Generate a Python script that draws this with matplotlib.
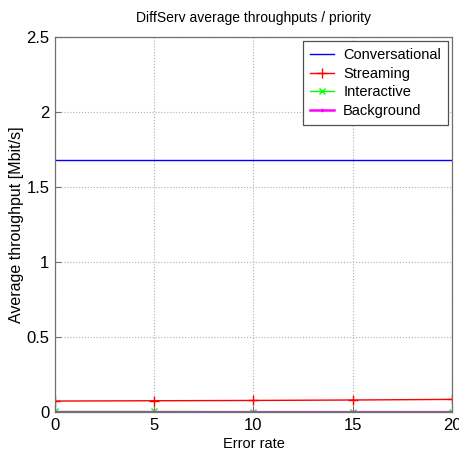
import matplotlib
matplotlib.use("Agg")
import matplotlib.pyplot as plt

plt.rcParams['font.family'] = ['Liberation Sans', 'DejaVu Sans']

error_rate = [0, 5, 10, 15, 20]
conversational = [1.68, 1.68, 1.68, 1.68, 1.68]
streaming = [0.073, 0.075, 0.077, 0.080, 0.084]
interactive = [0.004, 0.004, 0.003, 0.003, 0.003]
background = [0.001, 0.001, 0.001, 0.001, 0.001]

fig = plt.figure(figsize=(4.59, 4.57), dpi=100)
ax = fig.add_axes([55 / 459, 45 / 457, (452 - 55) / 459, (412 - 37) / 457])

ax.plot(error_rate, conversational, color='#0000ff', lw=1.0, label='Conversational')
ax.plot(error_rate, streaming, color='#ff0000', lw=1.0, marker='+', ms=7, label='Streaming')
ax.plot(error_rate, interactive, color='#00ff00', lw=1.0, marker='x', ms=4, label='Interactive')
ax.plot(error_rate, background, color='#ff00ff', lw=1.8, marker='.', ms=3, label='Background')

ax.set_xlim(0, 20)
ax.set_ylim(0, 2.5)
ax.set_xticks([0, 5, 10, 15, 20])
ax.set_yticks([0, 0.5, 1, 1.5, 2, 2.5])
ax.set_yticklabels(['0', '0.5', '1', '1.5', '2', '2.5'])
ax.grid(True, color='#b0b0b0', linestyle=':', lw=0.8)
ax.tick_params(labelsize=12, direction='in', length=4, color='#707070', pad=4)
for s in ax.spines.values():
    s.set_color('#707070')
    s.set_linewidth(0.9)

ax.set_xlabel('Error rate', fontsize=10.5, labelpad=3)
ax.set_ylabel('Average throughput [Mbit/s]', fontsize=11.5, labelpad=2)
ax.set_title('DiffServ average throughputs / priority', fontsize=10, pad=11)

leg = ax.legend(loc='upper right', fontsize=10.5, fancybox=False, framealpha=1,
                edgecolor='#505050', borderpad=0.45, labelspacing=0.32,
                handlelength=1.7, handletextpad=0.6, borderaxespad=0.3)
leg.get_frame().set_linewidth(0.9)

fig.savefig('out.png', dpi=100)
